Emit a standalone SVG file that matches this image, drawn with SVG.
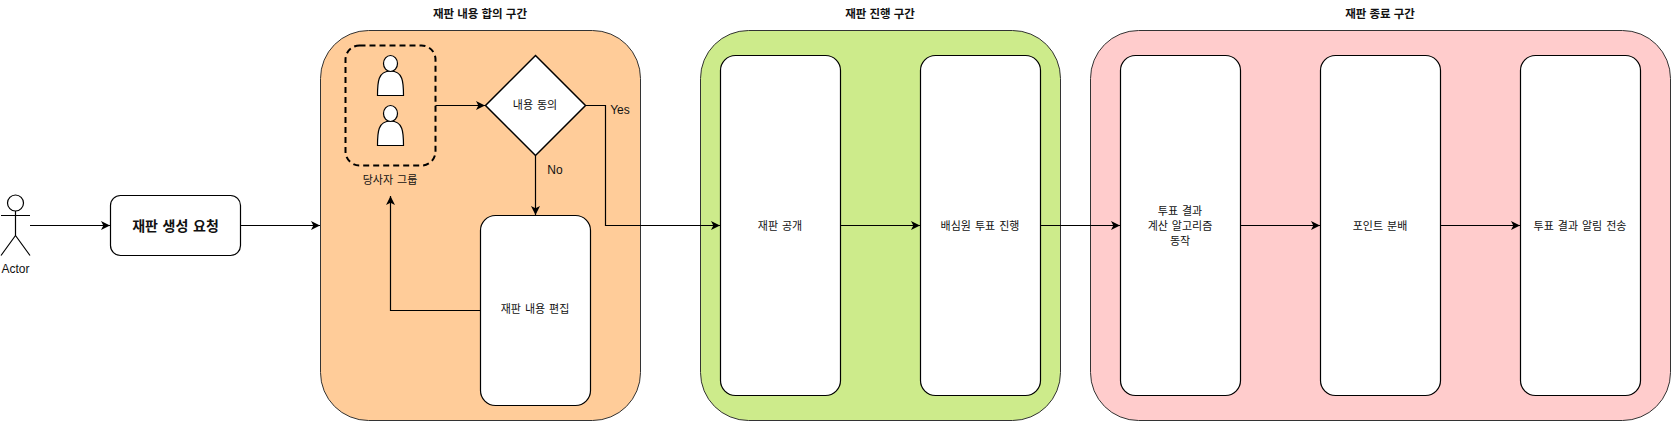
<svg xmlns="http://www.w3.org/2000/svg" width="1671" height="421" viewBox="0 0 1671 421">
<defs>
<marker id="arr" markerUnits="userSpaceOnUse" markerWidth="11" markerHeight="10" refX="9" refY="5" orient="auto"><path d="M0 0.5L9 5L0 9.5L2.3 5Z" fill="#000"/></marker>
</defs>
<style>
text{font-family:"Noto Sans CJK KR","Liberation Sans",sans-serif;font-size:11px;word-spacing:1.5px;text-anchor:middle;fill:#111}
.lat{font-family:"Liberation Sans",Arial,sans-serif;font-size:12px;word-spacing:0}
.title{font-weight:700;font-size:11.5px;word-spacing:0.5px}
.zone{stroke:#333;stroke-width:1}
.box{fill:#fff;stroke:#000;stroke-width:1.2}
.edge{fill:none;stroke:#000;stroke-width:1.2;marker-end:url(#arr)}
.p{fill:#fff;stroke:#000;stroke-width:1.2}
</style>
<g id="zone-agree"><rect class="zone" x="320.5" y="30.5" width="320" height="390" rx="48" fill="#ffcc99"/><text class="title" x="480" y="18">재판 내용 합의 구간</text></g>
<g id="zone-progress"><rect class="zone" x="700.5" y="30.5" width="360" height="390" rx="48" fill="#cdeb8b"/><text class="title" x="880" y="18">재판 진행 구간</text></g>
<g id="zone-end"><rect class="zone" x="1090.5" y="30.5" width="580" height="390" rx="48" fill="#ffcccc"/><text class="title" x="1380" y="18">재판 종료 구간</text></g>
<g id="actor" fill="none" stroke="#000" stroke-width="1.2"><circle cx="15.5" cy="203" r="8" fill="#fff"/><path d="M15.5 211V235.5M1 215.5H30M15.5 235.5L1 255.5M15.5 235.5L30 255.5"/><text class="lat" x="15.5" y="273" stroke="none">Actor</text></g>
<g id="request"><rect class="box" x="110.5" y="195.5" width="130" height="60" rx="10"/><text x="175.5" y="230.5" style="font-weight:700;font-size:14px">재판 생성 요청</text></g>
<g id="group"><rect x="345.5" y="45.5" width="90" height="120" rx="14" fill="none" stroke="#000" stroke-width="2" stroke-dasharray="6 4"/>
<path class="p" d="M377.5 95.5C377.5 82 378 71 390.5 71S403.5 82 403.5 95.5Z"/><ellipse class="p" cx="390.5" cy="63.5" rx="7" ry="8"/>
<path class="p" d="M377.5 145.5C377.5 132 378 121 390.5 121S403.5 132 403.5 145.5Z"/><ellipse class="p" cx="390.5" cy="113.5" rx="7" ry="8"/>
<text x="390" y="184">당사자 그룹</text></g>
<g id="agree"><path d="M535.5 55.5L585.5 105.5L535.5 155.5L485.5 105.5Z" fill="#fff" stroke="#000" stroke-width="1.5"/><text x="535" y="109">내용 동의</text></g>
<g id="edit"><rect class="box" x="480.5" y="215.5" width="110" height="190" rx="15"/><text x="535" y="313">재판 내용 편집</text></g>
<g id="publish"><rect class="box" x="720.5" y="55.5" width="120" height="340" rx="15"/><text x="780" y="229.5">재판 공개</text></g>
<g id="vote"><rect class="box" x="920.5" y="55.5" width="120" height="340" rx="15"/><text x="980" y="229.5">배심원 투표 진행</text></g>
<g id="calc"><rect class="box" x="1120.5" y="55.5" width="120" height="340" rx="15"/><text x="1180" y="214.5">투표 결과</text><text x="1180" y="229.5">계산 알고리즘</text><text x="1180" y="244.5">동작</text></g>
<g id="points"><rect class="box" x="1320.5" y="55.5" width="120" height="340" rx="15"/><text x="1380" y="229.5">포인트 분배</text></g>
<g id="notify"><rect class="box" x="1520.5" y="55.5" width="120" height="340" rx="15"/><text x="1580" y="229.5">투표 결과 알림 전송</text></g>
<g id="connectors">
<path class="edge" d="M30 225.5H110"/>
<path class="edge" d="M240.5 225.5H320"/>
<path class="edge" d="M435.5 105.5H485"/>
<path class="edge" d="M535.5 155.5V215"/>
<path class="edge" d="M480.5 310.5H390.5V196"/>
<path class="edge" d="M585.5 105.5H605.5V225.5H720"/>
<path class="edge" d="M840.5 225.5H920"/>
<path class="edge" d="M1040.5 225.5H1120"/>
<path class="edge" d="M1240.5 225.5H1320"/>
<path class="edge" d="M1440.5 225.5H1520"/>
<text class="lat" x="620" y="114">Yes</text>
<text class="lat" x="555" y="174">No</text>
</g>
</svg>
